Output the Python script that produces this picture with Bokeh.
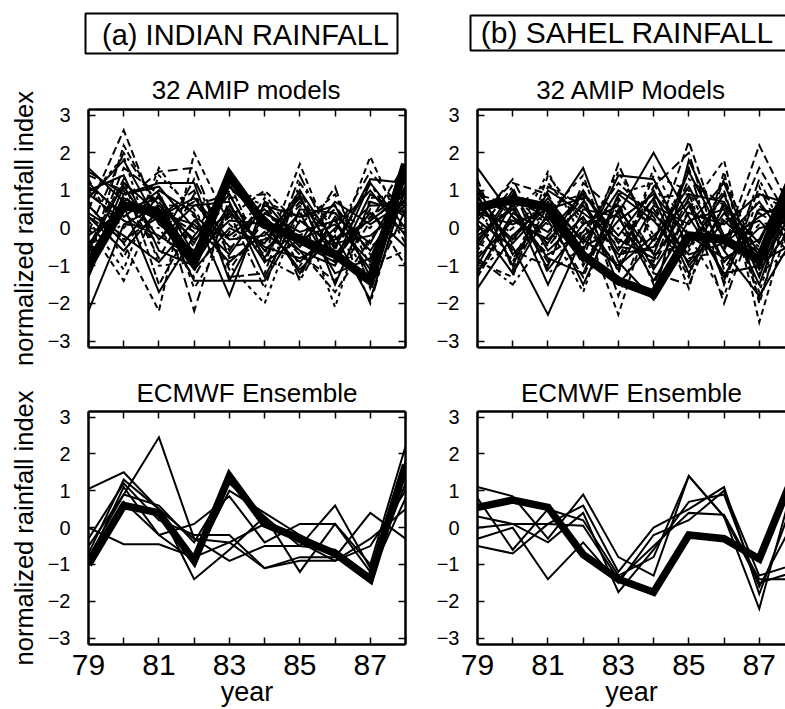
from bokeh.plotting import figure
from bokeh.layouts import column, row
from bokeh.models import Range1d, LinearAxis, FixedTicker, Label, BoxAnnotation
from bokeh.embed import file_html
from bokeh.resources import INLINE

FONT = "Liberation Sans"

years = [79, 80, 81, 82, 83, 84, 85, 86, 87, 88]
x_ticks = [79, 81, 83, 85, 87]
x_minor = [80, 82, 84, 86, 88]
y_ticks = [-3, -2, -1, 0, 1, 2, 3]

# observed rainfall indices (thick lines)
obs_india = [-1.0, 0.6, 0.4, -0.9, 1.4, 0.1, -0.3, -0.7, -1.4, 1.7]
obs_sahel = [0.55, 0.75, 0.55, -0.73, -1.4, -1.75, -0.2, -0.3, -0.85, 1.5]

# 32 AMIP models, Indian rainfall (first 16 solid, last 16 dashed)
amip_india = [
    [-2.2, 0.1, 0.6, -0.3, 0.4, -0.5, -0.8, -0.3, 0.2, 0.9],
    [0.8, 1.8, 0.1, -0.6, 1.1, 0.2, -1.2, 0.3, -0.4, 1.3],
    [1.5, 0.9, 1.2, 1.2, -1.4, -1.4, 0.2, -0.5, 1.3, 1.2],
    [-0.4, 0.6, -1.7, -0.2, 0.9, -0.8, 0.9, -1.5, 0.7, 0.4],
    [0.3, -0.6, 0.5, -1.4, -1.4, 0.4, -0.1, 0.2, -1.1, 1.6],
    [1.2, 0.3, 1.0, 0.4, -1.8, 0.7, -0.4, -0.9, 1.2, 0.0],
    [-1.1, 1.1, -0.3, 0.6, 0.7, -1.3, 0.5, 0.4, -0.6, 0.8],
    [0.6, -0.4, 0.9, -0.7, 0.2, 0.1, -1.1, -0.2, -1.9, 1.1],
    [-0.8, 0.8, 0.3, 0.8, -0.3, -0.2, 0.8, -0.7, 0.4, -0.5],
    [1.0, 1.4, -0.6, -1.0, 0.5, -0.9, -0.3, 0.1, -0.9, 1.5],
    [-0.2, 0.5, 0.8, -0.4, 1.3, 0.3, -0.6, -1.0, 0.9, 0.3],
    [0.4, -0.2, -0.9, 0.2, -0.7, 0.6, 0.3, 0.6, -1.3, 1.0],
    [1.6, 0.7, 0.2, -1.1, 0.0, -0.4, 1.0, -0.4, -0.2, 0.6],
    [-0.6, 1.2, 0.4, 0.1, -0.9, -0.1, -0.9, 0.0, 1.0, -0.2],
    [0.9, 0.2, -0.2, -0.8, 0.6, -0.6, 0.4, -1.2, -0.8, 1.4],
    [-1.3, 0.9, 1.1, 0.0, -0.2, 0.5, -0.5, 0.7, 0.1, 0.7],
    [0.5, 2.6, 0.2, 0.7, -0.5, -0.3, 0.6, -0.8, 0.3, 1.0],
    [1.3, -0.4, -2.2, 2.0, 0.1, -0.7, 1.7, -0.6, 1.9, -0.2],
    [-0.7, 1.6, 0.9, -2.2, 0.8, 0.9, -0.4, 1.1, -1.6, 0.5],
    [0.2, -1.1, 1.4, 0.5, -1.0, -2.0, 0.5, -2.1, 0.8, 0.9],
    [1.1, 0.4, -0.4, 1.3, -0.6, 0.8, -1.4, 0.3, -2.0, 1.2],
    [-0.9, 2.2, 0.5, -0.1, 1.2, -0.9, 1.0, -0.9, 0.5, -1.0],
    [0.7, -0.8, 1.6, 0.3, -0.3, 0.4, -0.2, 0.5, -0.5, 0.2],
    [-0.4, 0.1, 0.0, -1.3, 0.4, -1.6, 1.2, -0.1, 1.5, 0.4],
    [1.4, 1.0, -0.8, 0.9, -1.1, 0.2, -0.7, -1.4, 0.2, 1.7],
    [0.0, -1.4, 0.7, -0.5, 0.3, 1.0, 0.1, 0.9, -1.0, -0.6],
    [-1.2, 0.7, 1.5, 1.6, -0.8, -0.4, 0.7, -0.3, 0.6, 0.6],
    [0.8, 1.9, -1.0, -0.9, 1.0, 0.6, -1.0, 0.2, -1.4, 1.1],
    [0.3, -0.3, 0.3, 1.0, -1.3, -1.2, 1.4, -0.5, 1.2, -0.4],
    [-0.5, 1.3, -1.5, 0.2, 0.5, 0.0, -0.6, -1.7, -0.3, 0.8],
    [1.0, 0.0, 1.0, -1.6, -0.1, 0.7, 0.3, 0.4, 0.0, 1.3],
    [-0.1, 2.0, 0.6, 0.6, 0.9, -0.8, -1.3, 0.6, -0.7, 0.1],
]

# 32 AMIP models, Sahel rainfall (first 16 solid, last 16 dashed)
amip_sahel = [
    [1.6, 0.3, -0.4, 1.0, -0.6, 0.8, -1.2, 0.6, -0.4, 1.7],
    [0.2, -0.5, -2.3, -0.2, 0.4, 2.0, 0.3, -1.2, -1.0, 0.5],
    [-0.5, 0.9, 0.2, 1.6, -0.9, -1.9, 1.8, -0.2, 0.2, -0.8],
    [-1.6, -0.2, 0.7, -0.6, 1.4, 1.3, -0.5, 0.9, -1.3, 1.2],
    [0.9, -1.0, 1.0, 0.4, -0.3, -0.8, 0.6, -1.3, 0.5, 0.3],
    [-0.2, 0.5, -0.8, -1.2, 0.9, 0.2, -0.9, 0.4, -0.6, 1.0],
    [0.4, 0.1, 0.5, 0.8, -1.5, -0.3, 1.1, -0.6, -1.8, -0.2],
    [-1.0, 0.7, -1.1, 0.1, 0.6, -1.1, 0.4, 0.1, 0.9, 0.6],
    [1.1, -0.7, 0.3, -0.9, 0.2, 0.9, -0.2, -0.8, -0.3, 1.4],
    [-0.8, 0.2, -0.3, 0.6, -0.7, -0.5, 0.9, 0.7, -0.9, -0.4],
    [0.6, -0.3, 0.8, -0.4, 1.0, 0.4, -0.7, -0.4, 0.3, 0.8],
    [-0.4, 1.0, -0.6, 0.3, -1.1, 0.6, 0.1, 1.2, -1.1, 0.1],
    [0.1, -1.2, 0.4, -1.5, 0.5, -0.7, 1.5, -0.3, 0.7, -0.6],
    [-1.2, 0.4, -0.1, 0.9, -0.2, 1.0, -1.0, 0.2, -0.7, 0.9],
    [0.7, -0.4, 0.6, -0.3, -1.0, -0.2, 0.7, -0.9, 0.0, 0.2],
    [-0.3, 0.6, -1.5, 0.5, 0.3, -1.4, 0.2, 0.5, -1.5, 1.1],
    [0.3, 1.2, 0.9, -0.8, 1.7, -0.4, 2.3, -0.5, 2.2, 0.3],
    [-0.9, -1.3, 1.4, 0.2, -2.3, 0.7, -1.6, 1.5, -2.5, 0.7],
    [1.0, -0.6, -1.0, 1.2, 0.4, -1.0, 0.8, -2.0, 0.6, -0.3],
    [-0.6, 0.8, 0.1, -1.7, 0.9, 1.2, -0.6, 0.9, -1.7, 1.3],
    [0.5, -0.9, 1.1, 0.6, -0.5, -0.6, 1.6, -1.5, 1.1, -0.9],
    [-1.3, 0.3, -0.7, -0.1, 1.2, 0.3, -1.3, 1.3, -0.8, 0.8],
    [0.8, -0.2, 0.4, 1.4, -1.2, 1.6, -0.2, -1.8, 0.9, 0.4],
    [-0.1, 1.1, -1.2, -0.5, 0.0, -0.9, 1.3, 0.6, -1.2, -0.5],
    [1.3, -1.1, 0.6, 0.9, -1.8, 0.5, -0.8, -0.6, 1.6, 0.0],
    [-0.7, 0.0, 0.9, -1.0, 0.7, -1.5, 0.5, 1.8, -2.0, 1.1],
    [0.2, 1.3, -0.5, 0.7, -0.8, 1.1, 2.0, -1.1, 0.4, -0.2],
    [-1.1, -0.4, 1.5, -0.3, 1.5, -0.2, -1.1, 0.3, -0.5, 0.6],
    [0.9, 0.6, -0.9, 1.0, -0.4, 0.8, 0.9, -1.4, 1.3, -0.7],
    [-0.4, -0.8, 0.2, -1.3, 0.8, -0.7, -0.4, 1.0, -1.9, 0.9],
    [0.6, 0.5, 1.2, 0.1, -1.0, 1.4, 1.0, -0.9, 0.1, 0.2],
    [-0.8, -1.5, -0.2, 0.8, 0.3, -1.2, -1.5, 0.7, -1.0, 1.5],
]

# ECMWF ensemble members
ecmwf_india = [
    [1.05, 1.5, 0.5, -0.3, -0.4, 0.1, -0.4, -0.9, -0.5, 1.0],
    [-0.5, 0.9, 2.45, -0.3, -0.9, -0.5, -0.5, 0.6, -1.1, 1.4],
    [0.0, -0.45, -0.45, -0.8, -0.4, -1.1, -0.9, -0.9, -0.3, 0.5],
    [-0.7, 1.3, 0.5, -1.4, -0.6, 0.3, -1.2, 0.1, -1.0, 2.2],
    [-0.9, 1.1, -0.2, 0.1, 0.85, -0.4, 0.1, 0.1, -1.2, 1.8],
    [-0.3, 1.2, 0.2, -0.2, -0.2, -1.1, -0.8, -0.8, 0.4, -0.3],
    [-0.8, 0.9, 0.6, -0.4, 1.2, 0.3, -0.5, -0.6, -1.3, 1.2],
    [-1.0, 0.7, -0.2, -0.9, 1.0, 0.4, -0.2, -0.7, -1.3, 0.8],
]
ecmwf_sahel = [
    [1.1, 0.85, -0.3, 0.9, -0.8, -1.3, 1.4, 0.3, -2.2, 1.3],
    [-0.5, -0.7, 0.1, 0.6, -1.2, 0.0, 0.5, 1.1, -1.8, 0.8],
    [0.3, 0.1, -0.4, 0.4, -1.75, -0.6, 0.7, 0.9, -1.6, 0.2],
    [0.0, 0.1, 0.1, 0.05, -1.4, -0.5, 0.4, 0.35, -1.4, -1.4],
    [-0.3, 0.0, -1.4, -0.4, -1.5, -0.2, 0.2, 1.0, -1.3, -1.0],
    [0.8, -0.6, 0.5, 0.2, -1.3, -0.8, 1.4, 0.3, -1.5, -1.2],
]

dash_styles = ["8 4", "6 4", "10 5", "4 4", "12 4 4 4", "7 3", "5 5", "9 4 3 4"]

YMIN, YMAX = -3.17, 3.15
X_END_RIGHT = 87.745
YLAB = "normalized rainfall index"


def style_axis(ax, show_labels, size="20px", standoff=18):
    ax.axis_line_width = 2.5
    ax.axis_line_color = "black"
    ax.major_tick_in = 7
    ax.major_tick_out = 0
    ax.minor_tick_in = 7
    ax.minor_tick_out = 0
    ax.major_tick_line_width = 1.5
    ax.minor_tick_line_width = 1.5
    ax.major_tick_line_color = "black"
    ax.minor_tick_line_color = "black"
    ax.major_label_text_font = FONT
    if show_labels:
        ax.major_label_text_color = "black"
        ax.major_label_text_font_size = size
        ax.major_label_standoff = standoff
    else:
        ax.major_label_text_color = None
        ax.major_label_text_alpha = 0
        ax.major_label_text_font_size = "1px"
        ax.major_label_standoff = 0


def make_panel(width, height, mbl, mbr, mbt, mbb, x_end, title, title_standoff,
               members, obs, obs_w, thin_w, dashed_from, with_ylabel,
               bottom_labels, right_axis):
    p = figure(width=width, height=height,
               x_range=Range1d(79, x_end), y_range=Range1d(YMIN, YMAX),
               output_backend="svg", toolbar_location=None,
               x_axis_type=None, y_axis_type=None,
               min_border_left=mbl, min_border_right=mbr,
               min_border_top=mbt, min_border_bottom=mbb,
               outline_line_color=None,
               background_fill_color="white", border_fill_color="white")
    p.title.text = title
    p.title.text_font = FONT
    p.title.text_font_size = "26px"
    p.title.text_font_style = "normal"
    p.title.text_color = "black"
    p.title.align = "center"
    p.title.standoff = title_standoff

    xt = FixedTicker(ticks=x_ticks, minor_ticks=x_minor)
    yt = FixedTicker(ticks=y_ticks, minor_ticks=[])

    xb = LinearAxis(ticker=xt)
    style_axis(xb, bottom_labels, size="30px", standoff=10)
    if bottom_labels:
        xb.axis_label = "year"
        xb.axis_label_text_font = FONT
        xb.axis_label_text_font_size = "27px"
        xb.axis_label_text_font_style = "normal"
        xb.axis_label_text_color = "black"
        xb.axis_label_standoff = -1
    p.add_layout(xb, "below")

    xa = LinearAxis(ticker=xt)
    style_axis(xa, False)
    p.add_layout(xa, "above")

    yl = LinearAxis(ticker=yt)
    style_axis(yl, True, size="20px", standoff=18)
    if with_ylabel:
        yl.axis_label = YLAB
        yl.axis_label_text_font = FONT
        yl.axis_label_text_font_size = "25.5px"
        yl.axis_label_text_font_style = "normal"
        yl.axis_label_text_color = "black"
        yl.axis_label_standoff = 7
    p.add_layout(yl, "left")

    if right_axis:
        yr = LinearAxis(ticker=yt)
        style_axis(yr, False)
        p.add_layout(yr, "right")

    for i, m in enumerate(members):
        if i >= dashed_from:
            dash = dash_styles[(i - dashed_from) % len(dash_styles)]
        else:
            dash = "solid"
        p.line(years, m, line_color="black", line_width=thin_w,
               line_dash=dash, line_join="miter")
    p.line(years, obs, line_color="black", line_width=obs_w, line_join="miter")
    return p


tl = make_panel(411, 307, 88, 6, 49, 20, 88, "32 AMIP models", 10, amip_india,
                obs_india, 9, 2.0, 16, True, False, True)
tr = make_panel(374, 307, 66, 0, 49, 20, X_END_RIGHT, "32 AMIP Models", 10,
                amip_sahel, obs_sahel, 9, 2.0, 16, False, False, False)
bl = make_panel(411, 342, 88, 6, 44, 60, 88, "ECMWF Ensemble", 8, ecmwf_india,
                obs_india, 7.5, 2.0, 99, True, True, True)
br = make_panel(374, 342, 66, 0, 44, 60, X_END_RIGHT, "ECMWF Ensemble", 8,
                ecmwf_sahel, obs_sahel, 7.5, 2.0, 99, False, True, False)

# header with boxed panel labels
h = figure(width=785, height=60, x_range=Range1d(0, 785), y_range=Range1d(0, 60),
           output_backend="svg", toolbar_location=None,
           x_axis_type=None, y_axis_type=None, min_border=0,
           outline_line_color=None, title=None,
           background_fill_color="white", border_fill_color="white")
h.add_layout(BoxAnnotation(left=85, right=397, bottom=7, top=47,
                           fill_alpha=0, line_alpha=1.0,
                           line_color="black", line_width=2))
h.add_layout(BoxAnnotation(left=470, right=820, bottom=10, top=45,
                           fill_alpha=0, line_alpha=1.0,
                           line_color="black", line_width=2))
h.add_layout(Label(x=245, y=26, text="(a) INDIAN RAINFALL", text_font=FONT,
                   text_font_size="29px", text_align="center",
                   text_color="black", text_baseline="alphabetic"))
h.add_layout(Label(x=627, y=28, text="(b) SAHEL RAINFALL", text_font=FONT,
                   text_font_size="30px", text_align="center",
                   text_color="black", text_baseline="alphabetic"))

layout = column(h, row(tl, tr), row(bl, br))

open("out.html", "w").write(file_html(layout, INLINE))
